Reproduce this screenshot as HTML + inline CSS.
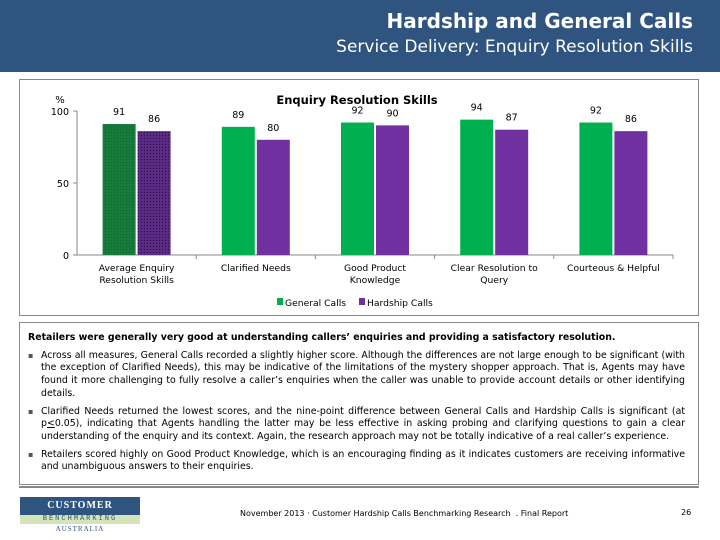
<!DOCTYPE html>
<html><head><meta charset="utf-8"><style>
body{margin:0;width:720px;height:540px;background:#fff;position:relative;overflow:hidden;font-family:"DejaVu Sans","Liberation Sans",sans-serif;}
.hdr{position:absolute;left:0;top:0;width:720px;height:72px;background:#2f5480;}
.t1{position:absolute;right:27px;top:9px;color:#fff;font:bold 20px "DejaVu Sans",sans-serif;}
.t2{position:absolute;right:27px;top:37px;color:#fff;font:17px "DejaVu Sans",sans-serif;}
.box{position:absolute;border:1px solid #888;}
.txt{position:absolute;left:28px;top:332px;width:657px;font-size:9.4px;color:#000;line-height:12.7px;}
.txt p{margin:0 0 5px 0;}
.txt ul{margin:0;padding:0;list-style:none;}
.txt li{position:relative;padding-left:13px;margin-bottom:5px;text-align:justify;}
.txt li:before{content:"▪";position:absolute;left:0;font-size:8px;color:#555;}
</style></head><body>
<div class="hdr">
<div class="t1">Hardship and General Calls</div>
<div class="t2">Service Delivery: Enquiry Resolution Skills</div>
</div>
<div class="box" style="left:19px;top:79px;width:678px;height:235px"></div>
<svg id="chart" width="720" height="540" style="position:absolute;left:0;top:0">
<defs>
<pattern id="pg" width="3" height="3" patternUnits="userSpaceOnUse"><rect width="3" height="3" fill="#1a7a3c"/><rect width="1" height="1" fill="#063"/></pattern>
<pattern id="pp" width="3" height="3" patternUnits="userSpaceOnUse"><rect width="3" height="3" fill="#5a2a85"/><rect width="1" height="1" fill="#2a0f45"/></pattern>
</defs>
</svg>
<div class="box" style="left:19px;top:322px;width:678px;height:161px"></div>
<div class="box" style="left:19px;top:486px;width:678px;height:0"></div>
<div class="txt">
<p style="font-weight:bold">Retailers were generally very good at understanding callers’ enquiries and providing a satisfactory resolution.</p>
<ul>
<li>Across all measures, General Calls recorded a slightly higher score. Although the differences are not large enough to be significant (with the exception of Clarified Needs), this may be indicative of the limitations of the mystery shopper approach. That is, Agents may have found it more challenging to fully resolve a caller’s enquiries when the caller was unable to provide account details or other identifying details.</li>
<li>Clarified Needs returned the lowest scores, and the nine-point difference between General Calls and Hardship Calls is significant (at p<u>&lt;</u>0.05), indicating that Agents handling the latter may be less effective in asking probing and clarifying questions to gain a clear understanding of the enquiry and its context. Again, the research approach may not be totally indicative of a real caller’s experience.</li>
<li>Retailers scored highly on Good Product Knowledge, which is an encouraging finding as it indicates customers are receiving informative and unambiguous answers to their enquiries.</li>
</ul></div>
<div style="position:absolute;left:20px;top:497px;width:120px;height:18px;background:#2f5480;color:#fff;font:bold 10px 'Liberation Serif',serif;text-align:center;line-height:18px;letter-spacing:1px">CUSTOMER SERVICE</div>
<div style="position:absolute;left:20px;top:515px;width:120px;height:9px;background:#d5e3b8;color:#2f5480;font:7px 'Liberation Mono',monospace;text-align:center;line-height:9px;letter-spacing:2px">BENCHMARKING</div>
<div style="position:absolute;left:20px;top:525px;width:120px;color:#2f5480;font:7px 'Liberation Serif',serif;text-align:center;letter-spacing:1px">AUSTRALIA</div>
<div style="position:absolute;left:240px;top:509px;font-size:8px;white-space:nowrap">November 2013 · Customer Hardship Calls Benchmarking Research &nbsp;. Final Report</div>
<div style="position:absolute;left:681px;top:508px;font-size:8px">26</div>
<script>
const categories=[["Average Enquiry","Resolution Skills"],["Clarified Needs"],["Good Product","Knowledge"],["Clear Resolution to","Query"],["Courteous & Helpful"]];
const generalCalls=[91,89,92,94,92];
const hardshipCalls=[86,80,90,87,86];
const yTicks=[0,50,100];
const svg=document.getElementById('chart');
const NS='http://www.w3.org/2000/svg';
const x0=77,x1=673,y0=255,yTop=111;
const band=(x1-x0)/categories.length;
function yS(v){return y0-(v/100)*(y0-yTop);}
function mk(t,a){const e=document.createElementNS(NS,t);for(const k in a)e.setAttribute(k,a[k]);svg.appendChild(e);return e;}
function txt(x,y,s,anchor,size,weight,name){const e=mk('text',{x:x,y:y,'text-anchor':anchor,'font-size':size,'font-family':'DejaVu Sans, sans-serif','font-weight':weight||'normal'});e.textContent=s;


return e;}
txt(357,104,'Enquiry Resolution Skills','middle',11.5,'bold','chart-title');
txt(60,103,'%','middle',10,'normal','y-axis-title');
yTicks.forEach(t=>{
const tl=txt(69,yS(t)+4,String(t),'end',9.5,'normal','y-tick-label');
const tk=mk('line',{x1:x0-4,x2:x0,y1:yS(t),y2:yS(t),stroke:'#888'});


});
const ya=mk('line',{x1:x0,x2:x0,y1:yTop,y2:y0,stroke:'#888'});


const xa=mk('line',{x1:x0,x2:x1,y1:y0,y2:y0,stroke:'#888'});


categories.forEach((c,i)=>{
const cx=x0+band*(i+0.5);
const tk=mk('line',{x1:x0+band*(i+1),x2:x0+band*(i+1),y1:y0,y2:y0+4,stroke:'#888'});


c.forEach((l,j)=>txt(cx,y0+16+j*12,l,'middle',9.2,'normal','x-category-label'));
[[generalCalls[i],'#00b050','url(#pg)',-34,'general'],[hardshipCalls[i],'#7030a0','url(#pp)',1,'hardship']].forEach(([v,col,pat,off,nm])=>{
const r=mk('rect',{x:cx+off,y:yS(v),width:33,height:y0-yS(v),fill:i===0?pat:col});


txt(cx+off+16.5,yS(v)-9,String(v),'middle',9.5,'normal','value-label');
});
});
const lg=mk('rect',{x:277,y:298,width:6,height:7,fill:'#00b050'});


txt(285,306,'General Calls','start',9.2,'normal','legend-general');
const lh=mk('rect',{x:359,y:298,width:6,height:7,fill:'#7030a0'});


txt(367,306,'Hardship Calls','start',9.2,'normal','legend-hardship');
</script>
</body></html>
